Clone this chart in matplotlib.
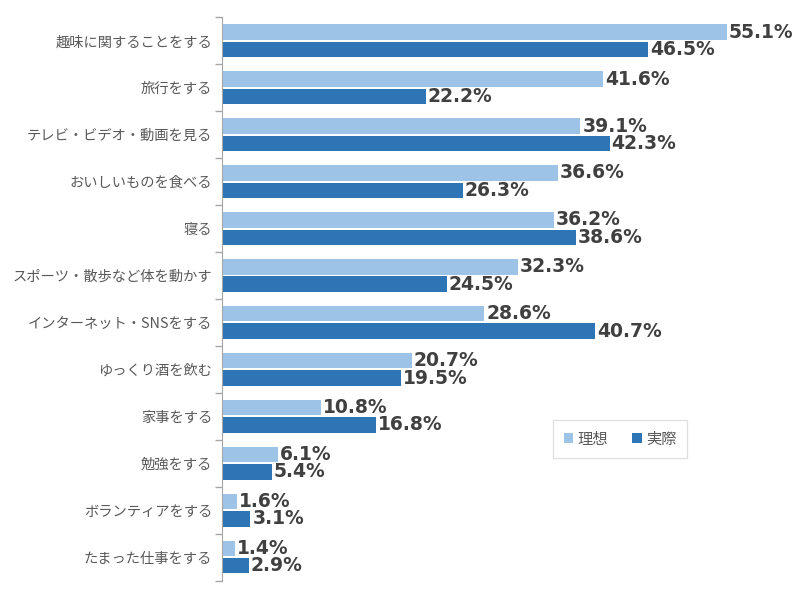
import matplotlib
matplotlib.use("Agg")
import matplotlib.pyplot as plt
import numpy as np

plt.rcParams['font.family'] = ['Noto Sans CJK JP', 'DejaVu Sans']

categories = ["趣味に関することをする", "旅行をする", "テレビ・ビデオ・動画を見る", "おいしいものを食べる",
              "寝る", "スポーツ・散歩など体を動かす", "インターネット・SNSをする", "ゆっくり酒を飲む",
              "家事をする", "勉強をする", "ボランティアをする", "たまった仕事をする"]
ideal = [55.1, 41.6, 39.1, 36.6, 36.2, 32.3, 28.6, 20.7, 10.8, 6.1, 1.6, 1.4]
actual = [46.5, 22.2, 42.3, 26.3, 38.6, 24.5, 40.7, 19.5, 16.8, 5.4, 3.1, 2.9]
series_names = ["理想", "実際"]

c_light = "#9DC3E6"
c_dark = "#2E75B6"

fig = plt.figure(figsize=(8, 6), dpi=100)
ax = fig.add_axes([0.2775, 0.0325, 0.6875, 0.9385])

n = len(categories)
y = np.arange(n)
h = 0.33
gap = 0.04
ax.barh(y - h/2 - gap/2, ideal, height=h, color=c_light, label=series_names[0])
ax.barh(y + h/2 + gap/2, actual, height=h, color=c_dark, label=series_names[1])

for yi, v in zip(y - h/2 - gap/2, ideal):
    ax.text(v + 0.2, yi, f"{v:.1f}%", va='center', ha='left', fontsize=13.5,
            fontweight='bold', color='#404040', family='DejaVu Sans')
for yi, v in zip(y + h/2 + gap/2, actual):
    ax.text(v + 0.2, yi, f"{v:.1f}%", va='center', ha='left', fontsize=13.5,
            fontweight='bold', color='#404040', family='DejaVu Sans')

ax.set_ylim(n - 0.5, -0.5)
ax.set_xlim(0, 60)
ax.set_yticks(y)
ax.set_yticklabels(categories, fontsize=10.3, color='#595959')
ax.tick_params(axis='y', which='major', length=0, pad=7)
ax.set_yticks(np.arange(-0.5, n, 1), minor=True)
ax.tick_params(axis='y', which='minor', length=5, color='#A6A6A6', width=1)
ax.set_xticks([])
for s in ['top', 'right', 'bottom']:
    ax.spines[s].set_visible(False)
ax.spines['left'].set_color('#A6A6A6')

leg = ax.legend(loc='upper left', bbox_to_anchor=(0.602, 0.285), borderaxespad=0, ncol=2,
                frameon=True, fontsize=11, handlelength=0.6, handleheight=0.6,
                handletextpad=0.3, columnspacing=1.6, borderpad=0.7, fancybox=False,
                edgecolor='#D9D9D9')
for t in leg.get_texts():
    t.set_color('#595959')

fig.savefig("out.png", dpi=100)
